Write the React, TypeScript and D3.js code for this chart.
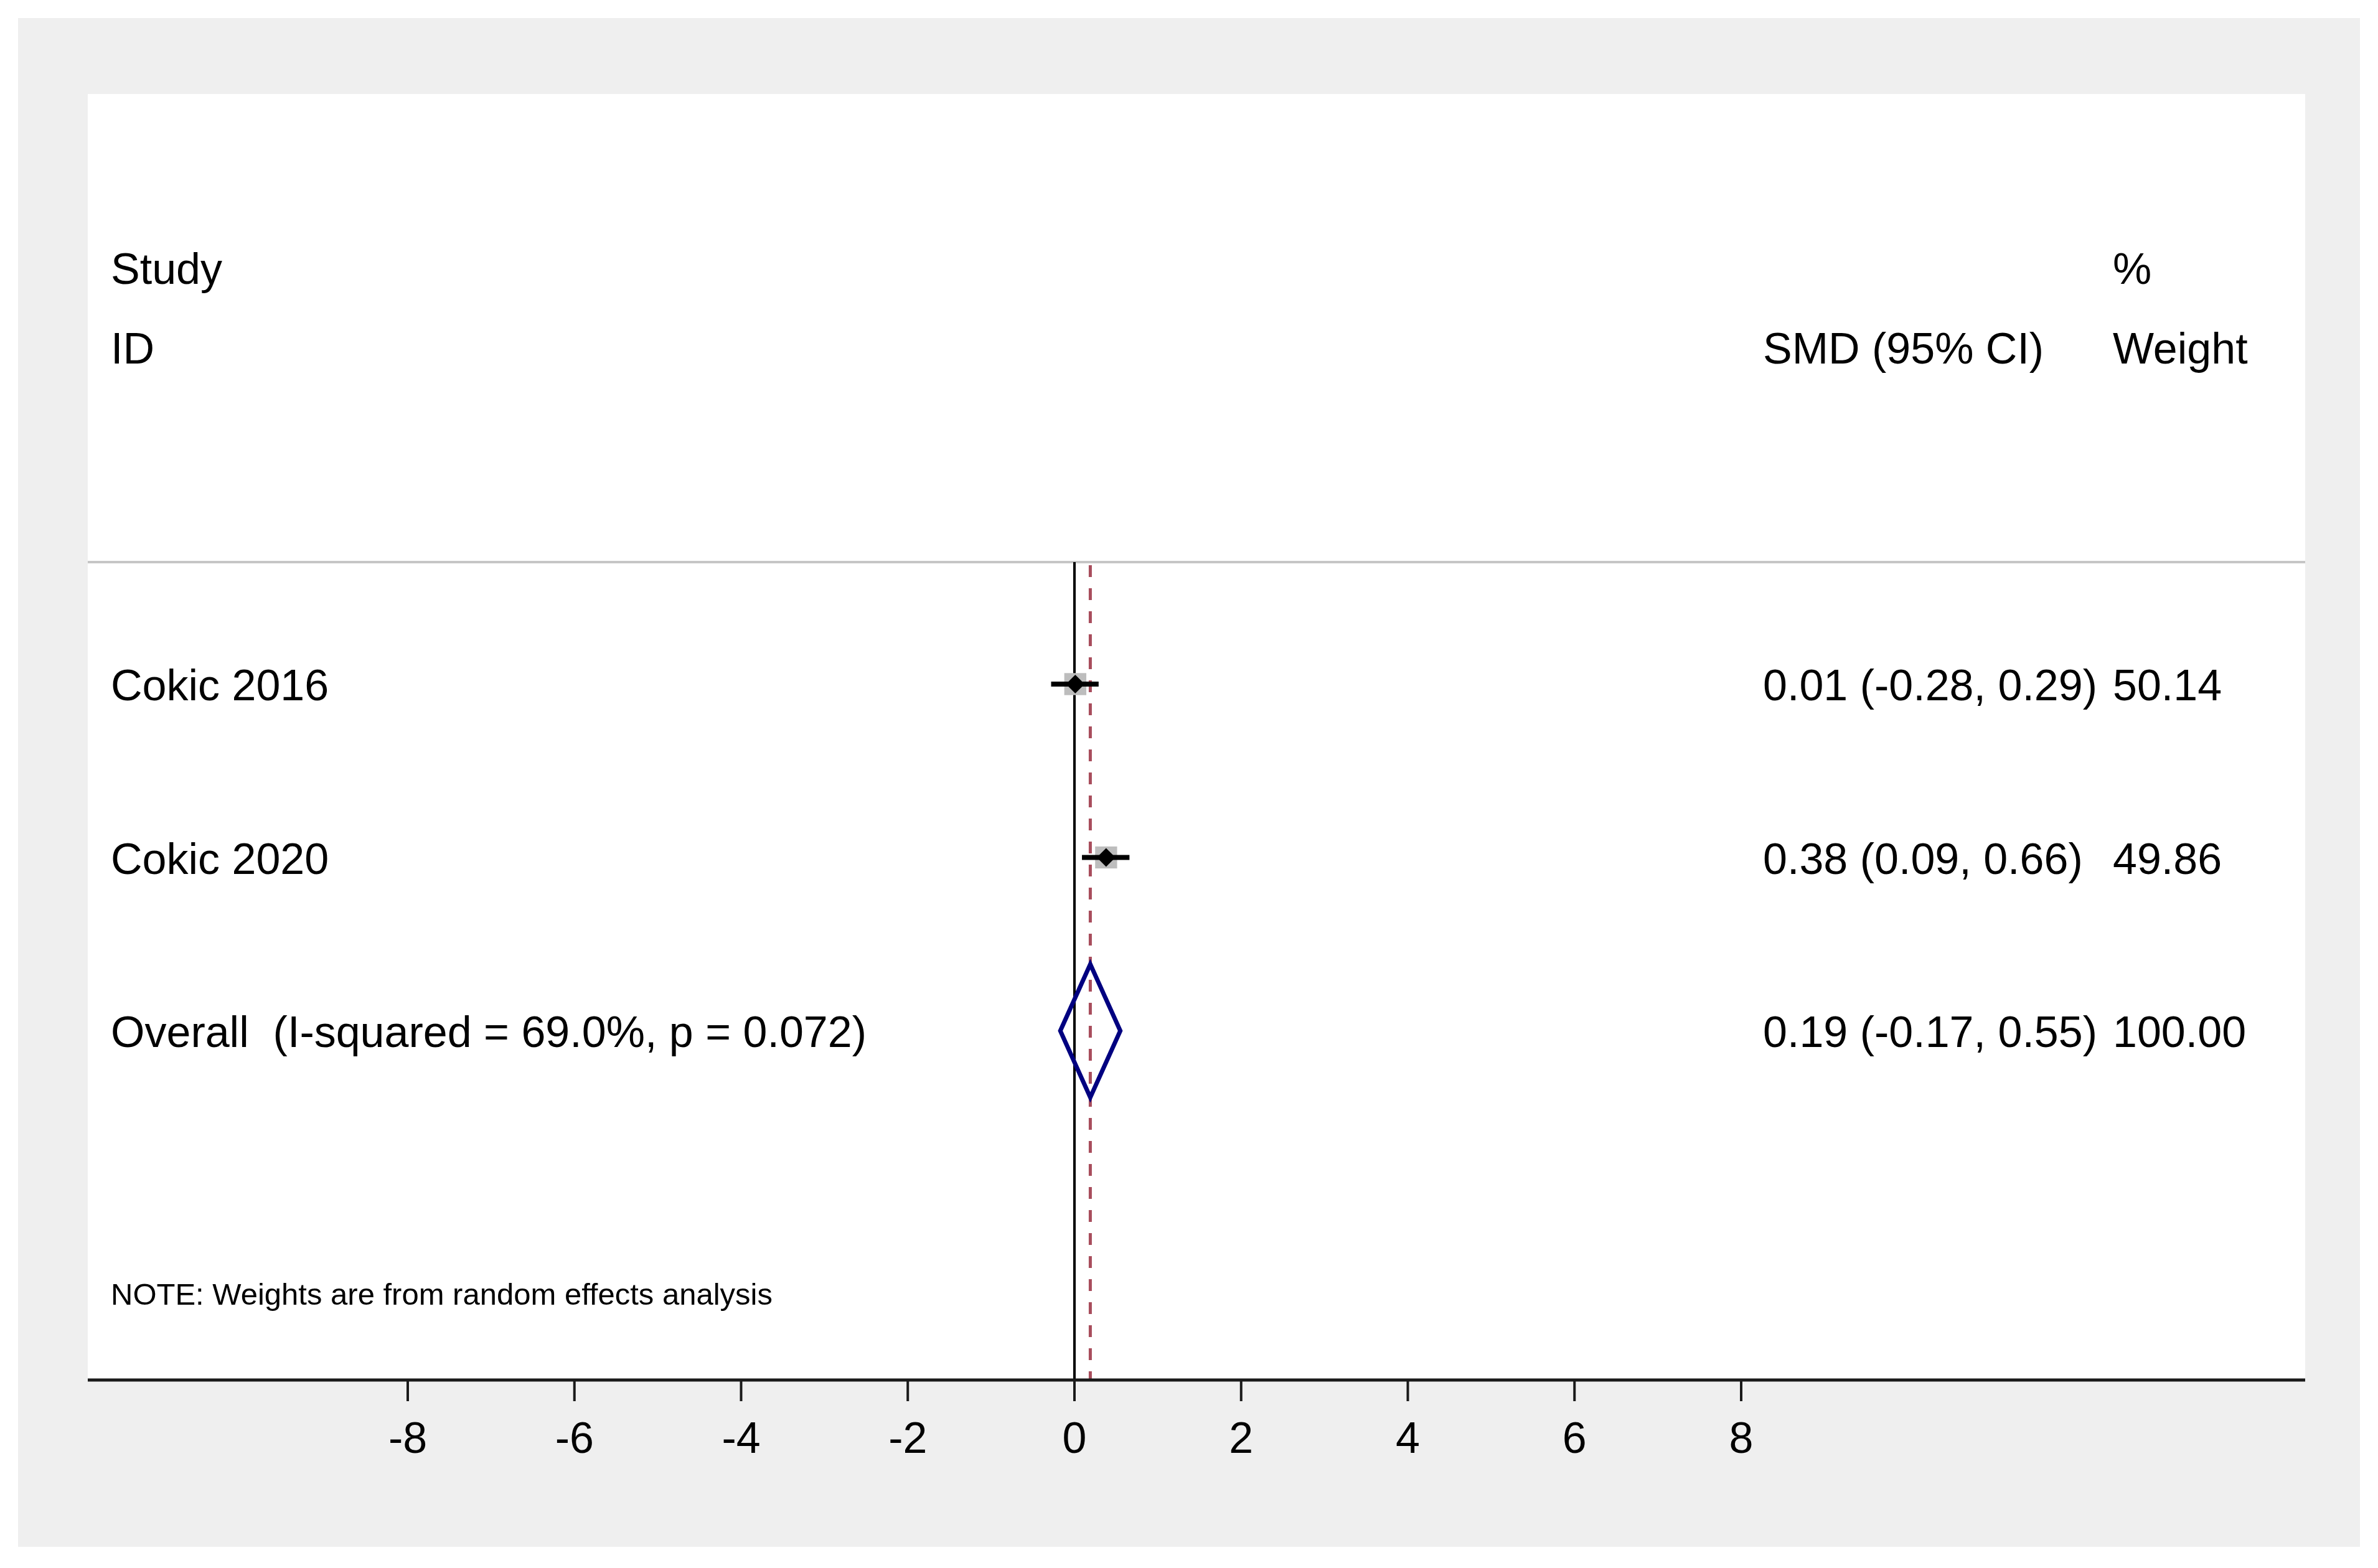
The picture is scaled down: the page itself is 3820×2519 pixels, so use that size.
import * as d3 from "d3";
import React from "react";

// study rows
const studies = ["Cokic 2016", "Cokic 2020"];
const smd = [0.01, 0.38];
const lower = [-0.28, 0.09];
const upper = [0.29, 0.66];
const weights = [50.14, 49.86];
const ciText = ["0.01 (-0.28, 0.29)", "0.38 (0.09, 0.66)"];
const weightText = ["50.14", "49.86"];

// pooled estimate
const overallLabel = "Overall  (I-squared = 69.0%, p = 0.072)";
const overallSmd = 0.19;
const overallLower = -0.17;
const overallUpper = 0.55;
const overallCiText = "0.19 (-0.17, 0.55)";
const overallWeightText = "100.00";

const xTicks = [-8, -6, -4, -2, 0, 2, 4, 6, 8];
const note = "NOTE: Weights are from random effects analysis";

export default function App() {
  const W = 3820;
  const H = 2519;
  const font = "'Liberation Sans', Arial, sans-serif";

  // plot frame
  const inner = { left: 141, right: 3703, top: 151, bottom: 2217 };
  const headerY = 903;

  const x = d3.scaleLinear().domain([-8, 8]).range([655, 2797]);
  // row centres: studies then overall
  const y = d3.scaleLinear().domain([0, 2]).range([1099, 1656]);

  const textX = 178;
  const ciX = 2832;
  const wX = 3394;
  const fs = 70;
  const base = 26; // baseline offset from row centre

  const boxSide = (w: number) => Math.sqrt(w) * 5;
  const dot = 15;

  const diamond = d3.line()([
    [x(overallLower), y(2)],
    [x(overallSmd), y(2) - 107],
    [x(overallUpper), y(2)],
    [x(overallSmd), y(2) + 107],
  ]) + "Z";

  return (
    <div style={{ position: "absolute", left: 0, top: 0 }}>
      <svg width={W} height={H} style={{ display: "block" }} fontFamily={font}>
        <rect x={0} y={0} width={W} height={H} fill="#ffffff" />
        <rect x={29} y={29} width={3791 - 29} height={2485 - 29} fill="#efefef" />
        <rect
          x={inner.left}
          y={inner.top}
          width={inner.right - inner.left}
          height={inner.bottom - inner.top}
          fill="#ffffff"
        />

        {/* header */}
        <g fontSize={fs} fill="#000">
          <text x={textX} y={456}>Study</text>
          <text x={textX} y={584}>ID</text>
          <text x={wX} y={456}>%</text>
          <text x={ciX} y={584}>SMD (95% CI)</text>
          <text x={wX} y={584}>Weight</text>
        </g>
        <line x1={inner.left} x2={inner.right} y1={headerY} y2={headerY} stroke="#c6c6c6" strokeWidth={4} />

        {/* null line and pooled effect line */}
        <line x1={x(0)} x2={x(0)} y1={headerY} y2={inner.bottom} stroke="#000" strokeWidth={4} />
        <line
          x1={x(overallSmd)}
          x2={x(overallSmd)}
          y1={headerY + 5}
          y2={inner.bottom}
          stroke="#a84d5c"
          strokeWidth={5}
          strokeDasharray="19 18"
        />

        {/* studies */}
        {studies.map((s, i) => {
          const cy = y(i);
          const cx = x(smd[i]);
          const side = boxSide(weights[i]);
          return (
            <g key={s}>
              <rect x={cx - side / 2} y={cy - side / 2} width={side} height={side} fill="#bdbdbd" />
              <line x1={x(lower[i])} x2={x(upper[i])} y1={cy} y2={cy} stroke="#000" strokeWidth={8} />
              <path
                d={`M${cx - dot},${cy}L${cx},${cy - dot}L${cx + dot},${cy}L${cx},${cy + dot}Z`}
                fill="#000"
              />
              <text x={textX} y={cy + base} fontSize={fs}>{s}</text>
              <text x={ciX} y={cy + base} fontSize={fs}>{ciText[i]}</text>
              <text x={wX} y={cy + base} fontSize={fs}>{weightText[i]}</text>
            </g>
          );
        })}

        {/* overall */}
        <path d={diamond} fill="none" stroke="#000080" strokeWidth={7} strokeLinejoin="miter" />
        <text x={textX} y={y(2) + base} fontSize={fs} style={{ whiteSpace: "pre" }}>{overallLabel}</text>
        <text x={ciX} y={y(2) + base} fontSize={fs}>{overallCiText}</text>
        <text x={wX} y={y(2) + base} fontSize={fs}>{overallWeightText}</text>

        <text x={textX} y={2096} fontSize={49}>{note}</text>

        {/* x axis */}
        <line x1={inner.left} x2={inner.right} y1={inner.bottom} y2={inner.bottom} stroke="#1a1a1a" strokeWidth={5} />
        {xTicks.map((t) => (
          <g key={t}>
            <line x1={x(t)} x2={x(t)} y1={inner.bottom} y2={inner.bottom + 34} stroke="#1a1a1a" strokeWidth={4} />
            <text x={x(t)} y={2334} fontSize={fs} textAnchor="middle">{t}</text>
          </g>
        ))}
      </svg>
    </div>
  );
}
